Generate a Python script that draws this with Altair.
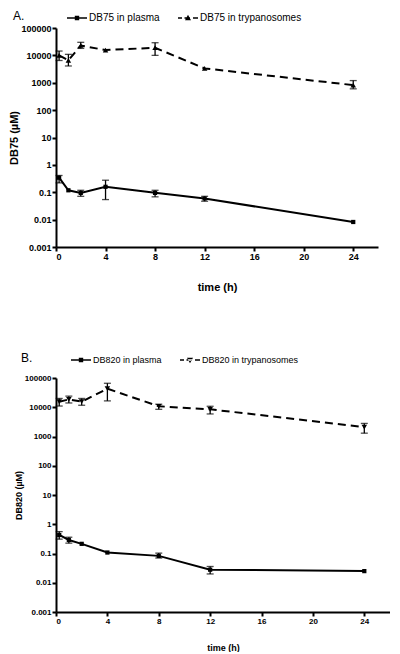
import altair as alt
import pandas as pd

FONT = "Liberation Sans"

# ---------------- Panel A (DB75) ----------------
a_time = [0.25, 1, 2, 4, 8, 12, 24]
a_plasma = [0.34, 0.118, 0.095, 0.158, 0.095, 0.059, 0.0082]
a_plasma_lo = [0.22, None, 0.071, 0.054, 0.068, 0.047, None]
a_plasma_hi = [0.41, None, 0.118, 0.275, 0.118, 0.071, None]
a_tryp = [10000, 6600, 23000, 15600, 19000, 3340, 820]
a_tryp_lo = [6500, 4100, 18000, None, 10000, None, 600]
a_tryp_hi = [14400, 10900, 30000, None, 29000, None, 1200]

# ---------------- Panel B (DB820) ----------------
b_time = [0.25, 1, 2, 4, 8, 12, 24]
b_plasma = [0.43, 0.29, 0.214, 0.108, 0.083, 0.028, 0.025]
b_plasma_lo = [0.31, 0.226, None, None, 0.07, 0.020, None]
b_plasma_hi = [0.56, 0.36, None, None, 0.103, 0.036, None]
b_tryp = [15500, 18500, 15500, 43000, 10800, 8500, 2100]
b_tryp_lo = [11000, 14000, 11700, 16500, 8500, 5900, 1300]
b_tryp_hi = [20000, 24000, 20000, 66000, 12700, 10800, 2800]

y_ticks = [0.001, 0.01, 0.1, 1, 10, 100, 1000, 10000, 100000]
x_ticks = [0, 4, 8, 12, 16, 20, 24]

LINE_SOLID = "M-1,-0.08H1V0.08H-1Z M-0.22,-0.22H0.22V0.22H-0.22Z"
DASH = "M-1,-0.08H-0.6V0.08H-1Z M-0.35,-0.08H0.2V0.08H-0.35Z M0.5,-0.08H1V0.08H0.5Z"
TRI_UP = DASH + " M0.0,-0.32L0.3,0.22H-0.3Z"
TRI_DOWN = DASH + " M0.0,0.32L0.3,-0.22H-0.3Z"


def frame(times, vals, lo, hi, series):
    return pd.DataFrame({"time": times, "value": vals, "lo": lo, "hi": hi, "series": series})


def panel(letter, drug, times, pl, pl_lo, pl_hi, tr, tr_lo, tr_hi,
          tri_shape, tri_path, width, height, xmax, lab_size, title_size,
          leg_size, leg_x, leg_y, leg_title_pad, xtitle_pad):
    s_pl = f"{drug} in plasma"
    s_tr = f"{drug} in trypanosomes"
    df = pd.concat([frame(times, pl, pl_lo, pl_hi, s_pl),
                    frame(times, tr, tr_lo, tr_hi, s_tr)], ignore_index=True)

    x = alt.X("time:Q",
              scale=alt.Scale(domain=[0, xmax], nice=False),
              axis=alt.Axis(values=x_ticks, title="time (h)", labelFontSize=lab_size,
                            titleFontSize=title_size, titlePadding=xtitle_pad))
    y = alt.Y("value:Q",
              scale=alt.Scale(type="log", domain=[0.001, 100000], nice=False),
              axis=alt.Axis(values=y_ticks, format="~g", title=f"{drug} (µM)",
                            labelFontSize=lab_size, titleFontSize=title_size, titlePadding=1))

    base = alt.Chart(df)
    plasma = base.transform_filter(alt.datum.series == s_pl)
    tryp = base.transform_filter(alt.datum.series == s_tr)

    line_pl = plasma.mark_line(color="black", strokeWidth=2).encode(x=x, y=y)
    line_tr = tryp.mark_line(color="black", strokeWidth=2, strokeDash=[8, 5]).encode(x=x, y=y)
    pts_pl = plasma.mark_point(shape="square", filled=True, color="black", size=18, opacity=1).encode(x=x, y=y)
    pts_tr = tryp.mark_point(shape=tri_shape, filled=True, color="black", size=30, opacity=1).encode(x=x, y=y)

    err = base.transform_filter("isValid(datum.lo)")
    err_rule = err.mark_rule(color="black", strokeWidth=1.3).encode(x="time:Q", y="lo:Q", y2="hi:Q")
    err_lo = err.mark_tick(color="black", orient="horizontal", size=7, thickness=1.3).encode(x="time:Q", y="lo:Q")
    err_hi = err.mark_tick(color="black", orient="horizontal", size=7, thickness=1.3).encode(x="time:Q", y="hi:Q")

    legend_layer = base.transform_filter("false").mark_point(filled=True, color="black", opacity=1).encode(
        x="time:Q", y="value:Q",
        shape=alt.Shape("series:N",
                        scale=alt.Scale(domain=[s_pl, s_tr], range=[LINE_SOLID, tri_path]),
                        legend=alt.Legend(title=f"{letter}.", titleOrient="left", titleFontSize=12,
                                          titleFontWeight="normal", titleFont=FONT, titleColor="black",
                                          titlePadding=leg_title_pad, titleBaseline="middle",
                                          orient="none", direction="horizontal",
                                          legendX=leg_x, legendY=leg_y, symbolSize=400,
                                          symbolFillColor="black", symbolStrokeWidth=0,
                                          labelFontSize=leg_size, labelFont=FONT, labelColor="black",
                                          labelOffset=2, columnPadding=18, labelLimit=300)),
    )

    return alt.layer(line_pl, line_tr, err_rule, err_lo, err_hi, pts_pl, pts_tr, legend_layer).properties(
        width=width, height=height,
    )


panelA = panel("A", "DB75", a_time, a_plasma, a_plasma_lo, a_plasma_hi, a_tryp, a_tryp_lo, a_tryp_hi,
               "triangle-up", TRI_UP, 322, 219, 26, 9, 11, 10, -43, -20, 42, 20)
panelB = panel("B", "DB820", b_time, b_plasma, b_plasma_lo, b_plasma_hi, b_tryp, b_tryp_lo, b_tryp_hi,
               "triangle-down", TRI_DOWN, 334, 234, 26, 8, 9, 9, -35, -28, 38, 18)

chart = alt.vconcat(panelA, panelB, spacing=58).resolve_scale(
    shape="independent", x="independent", y="independent"
).resolve_legend(shape="independent").properties(
    padding={"left": 0, "top": 0, "right": 0, "bottom": 0}
).configure(
    font=FONT,
).configure_view(stroke=None).configure_axis(
    labelFont=FONT, titleFont=FONT, labelFontWeight="bold", titleFontWeight="bold",
    labelColor="black", titleColor="black", domainColor="black", tickColor="black",
    domainWidth=2, tickWidth=2, tickSize=4, labelPadding=1, grid=False,
)

chart.save("out.html", embed_options={"renderer": "svg", "actions": False})
